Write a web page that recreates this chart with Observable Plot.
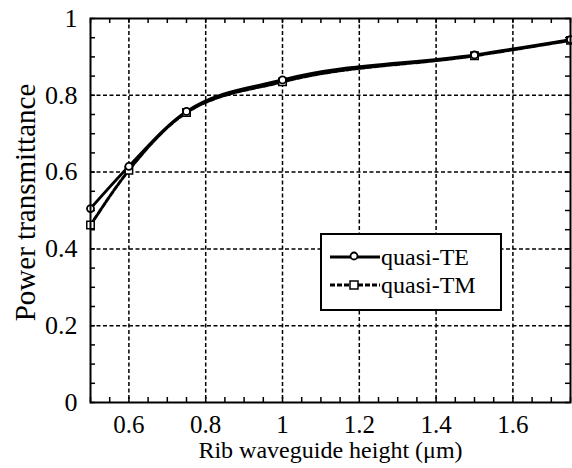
<!DOCTYPE html>
<html>
<head>
<meta charset="utf-8">
<script src="https://cdn.jsdelivr.net/npm/d3@7"></script>
<script src="https://cdn.jsdelivr.net/npm/@observablehq/plot@0.6"></script>
<style>
  html, body { margin: 0; padding: 0; background: #fff; }
  #wrap { position: relative; width: 572px; height: 468px; }
  #wrap svg text { font-family: 'Liberation Serif', 'Times New Roman', Times, serif; }
  #legend { position: absolute; left: 320px; top: 233px; width: 178px; height: 74px;
    border: 2px solid #000; background: #fff; font-family: 'Liberation Serif', 'Times New Roman', Times, serif; font-size: 24px; }
  #legend .row { position: absolute; left: 8px; height: 24px; display: flex; align-items: center; }
  #legend .row span { margin-left: 1px; line-height: 24px; }
</style>
</head>
<body>
<div id="wrap"></div>
<script>
const heights = [0.5, 0.6, 0.75, 1.0, 1.5, 1.75];
const quasiTE = [0.505, 0.615, 0.758, 0.84, 0.905, 0.945];
const quasiTM = [0.462, 0.605, 0.755, 0.835, 0.903, 0.943];
const xTicks = [0.6, 0.8, 1.0, 1.2, 1.4, 1.6];
const yTicks = [0, 0.2, 0.4, 0.6, 0.8, 1];
const xMinor = d3.range(0.5, 1.751, 0.05).map(v => +v.toFixed(2));
const yMinor = d3.range(0, 1.001, 0.05).map(v => +v.toFixed(2));
const xLabel = "Rib waveguide height (μm)";
const yLabel = "Power transmittance";

const te = heights.map((h, i) => ({h, v: quasiTE[i]}));
const tm = heights.map((h, i) => ({h, v: quasiTM[i]}));

const W = 572, H = 468, mL = 90, mR = 2, mT = 18, mB = 66;
const pw = W - mL - mR, ph = H - mT - mB;
const fmt = d => String(+d.toFixed(1));

const chart = Plot.plot({
  width: W, height: H,
  marginLeft: mL, marginRight: mR, marginTop: mT, marginBottom: mB,
  style: {fontFamily: "'Liberation Serif', 'Times New Roman', serif", background: "#fff", color: "#000"},
  x: {domain: [0.5, 1.75]},
  y: {domain: [0, 1]},
  marks: [
    Plot.gridX(xTicks, {stroke: "#000", strokeOpacity: 1, strokeWidth: 1.5, strokeDasharray: "4,2.5"}),
    Plot.gridY(yTicks.filter(d => d > 0 && d < 1), {stroke: "#000", strokeOpacity: 1, strokeWidth: 1.5, strokeDasharray: "4,2.5"}),
    Plot.ruleX(xMinor, {stroke: "#000", strokeWidth: 1.5, insetTop: ph - 5}),
    Plot.ruleX(xMinor, {stroke: "#000", strokeWidth: 1.5, insetBottom: ph - 5}),
    Plot.ruleY(yMinor, {stroke: "#000", strokeWidth: 1.5, insetRight: pw - 5}),
    Plot.ruleY(yMinor, {stroke: "#000", strokeWidth: 1.5, insetLeft: pw - 5}),
    Plot.axisX(xTicks, {tickSize: 0, tickPadding: 13, fontSize: 25, tickFormat: fmt, label: null}),
    Plot.axisY(yTicks, {tickSize: 0, tickPadding: 13, fontSize: 26, tickFormat: fmt, label: null}),
    Plot.line(tm, {x: "h", y: "v", stroke: "#000", strokeWidth: 3, strokeDasharray: "5,2", curve: "monotone-x"}),
    Plot.line(te, {x: "h", y: "v", stroke: "#000", strokeWidth: 2.8, curve: "monotone-x"}),
    Plot.dot(tm, {x: "h", y: "v", symbol: "square", r: 4.2, stroke: "#000", strokeWidth: 1.5, fill: "#fff"}),
    Plot.dot(te, {x: "h", y: "v", symbol: "circle", r: 3.5, stroke: "#000", strokeWidth: 1.8, fill: "#fff"}),
    Plot.frame({stroke: "#000", strokeWidth: 2}),
    Plot.text([xLabel], {text: d => d, frameAnchor: "bottom", dy: 55, fontSize: 24, fill: "#000"}),
    Plot.text([yLabel], {text: d => d, frameAnchor: "left", textAnchor: "middle", rotate: -90, dx: -65, dy: -8, fontSize: 29, fill: "#000"})
  ]
});
const wrap = document.getElementById("wrap");
wrap.appendChild(chart);

const legend = document.createElement("div");
legend.id = "legend";
legend.innerHTML = `
  <div class="row" style="top:10px">
    <svg width="50" height="20"><line x1="0" y1="10" x2="50" y2="10" stroke="#000" stroke-width="2.8"/>
      <circle cx="24" cy="9" r="3.5" fill="#fff" stroke="#000" stroke-width="1.8"/></svg>
    <span>quasi-TE</span></div>
  <div class="row" style="top:38px">
    <svg width="50" height="20"><line x1="0" y1="10" x2="50" y2="10" stroke="#000" stroke-width="3" stroke-dasharray="5,2"/>
      <rect x="20" y="6" width="8" height="8" fill="#fff" stroke="#000" stroke-width="1.5"/></svg>
    <span>quasi-TM</span></div>`;
wrap.appendChild(legend);
</script>
</body>
</html>
